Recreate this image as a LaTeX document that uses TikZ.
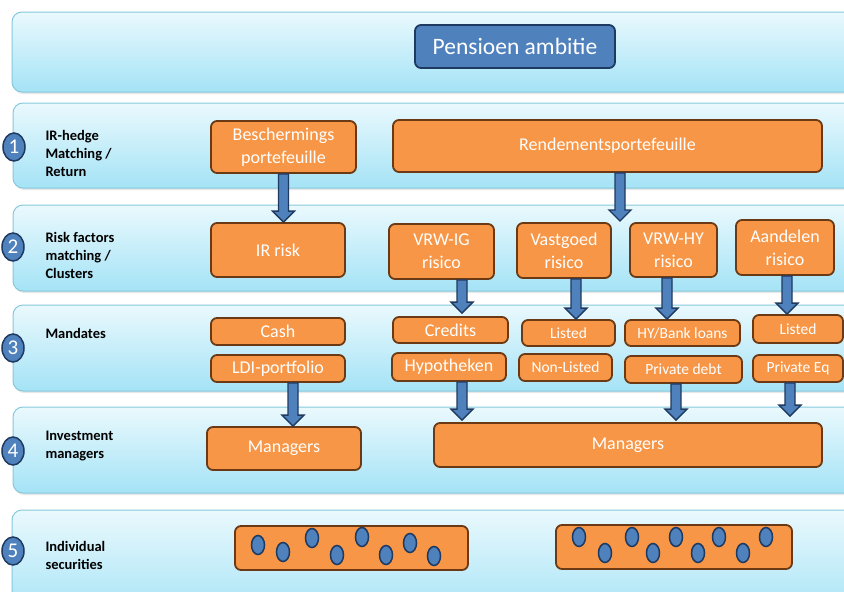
\documentclass[tikz,border=0pt]{standalone}
\usepackage{fontspec}
\setmainfont{Carlito}
\usetikzlibrary{calc,shadows,shapes.geometric}
\definecolor{bandtop}{HTML}{EAF9FD}
\definecolor{bandbot}{HTML}{A4E3F6}
\definecolor{bandline}{HTML}{86C9DC}
\definecolor{boxor}{HTML}{F79646}
\definecolor{boxbr}{HTML}{6B3A14}
\definecolor{blu}{HTML}{4F81BD}
\definecolor{bluline}{HTML}{1F3A60}
\tikzset{
band/.style={rounded corners=10pt,top color=bandtop,bottom color=bandbot,draw=bandline,line width=1pt,
  drop shadow={opacity=.18,shadow xshift=1pt,shadow yshift=-2pt}},
obox/.style={rounded corners=6pt,fill=boxor,draw=boxbr,line width=1.8pt,text=white,align=center,inner sep=0pt,
  font=\fontsize{18}{23}\selectfont},
sbox/.style={obox,font=\fontsize{15.5}{18}\selectfont},
num/.style={ellipse,minimum width=22pt,minimum height=28pt,inner sep=0pt,fill=blu,draw=bluline,line width=1.5pt,
  text=white,font=\fontsize{21}{21}\selectfont},
lab/.style={anchor=west,align=left,font=\fontsize{14.5}{18}\selectfont\bfseries},
fatarrow/.style={fill=blu,draw=bluline,line width=1.3pt,line join=miter},
secdot/.style={fill=blu,draw=bluline,line width=1.5pt}
}
\newcommand\fatarrow[2]{%
  \draw[fatarrow] let \p1=(#1), \p2=(#2) in
    (\x1-5pt,\y1) -- (\x1-5pt,\y2+11pt) -- (\x1-11pt,\y2+11pt) -- (\x1,\y2)
    -- (\x1+11pt,\y2+11pt) -- (\x1+5pt,\y2+11pt) -- (\x1+5pt,\y1) -- cycle;}
\begin{document}
\begin{tikzpicture}[x=1pt,y=-1pt]
\clip (0,0) rectangle (844,592);
\fill[white] (0,0) rectangle (844,592);
% layers
\draw[band] (12,12) rectangle (880,92);
\draw[band] (13,103) rectangle (880,188);
\draw[band] (13,205) rectangle (880,291);
\draw[band] (13,305) rectangle (880,391);
\draw[band] (13,407) rectangle (880,493);
\draw[band] (12,510) rectangle (880,620);
\node[obox,fill=blu,draw=bluline,minimum width=200pt,minimum height=43pt,font=\fontsize{23.5}{26}\selectfont] (pen) at (515,46.5) {Pensioen ambitie};
% numbers and labels
\node[num] (num1) at (14,147) {1};
\node[num] (num2) at (13,247) {2};
\node[num] (num3) at (13,348) {3};
\node[num] (num4) at (13,451) {4};
\node[num] (num5) at (13,551) {5};
\node[lab] (lab1) at (42,153) {IR-hedge\\Matching /\\Return};
\node[lab] (lab2) at (42,255) {Risk factors\\matching /\\Clusters};
\node[lab] (lab3) at (42,333) {Mandates};
\node[lab] (lab4) at (42,446) {Investment\\managers};
\node[lab] (lab5) at (42,555) {Individual\\securities};
% level 1 and 2
\node[obox,minimum width=145pt,minimum height=52pt] (bes) at (283.5,147) {Beschermings\\portefeuille};
\node[obox,minimum width=429pt,minimum height=52pt] (rend) at (607.5,146) {Rendementsportefeuille};
\node[obox,minimum width=134pt,minimum height=54pt] (irr) at (278,250) {IR risk};
\node[obox,minimum width=105pt,minimum height=55pt] (vig) at (441.5,251.5) {VRW-IG\\risico};
\node[obox,minimum width=94pt,minimum height=55pt] (vast) at (564,250.5) {Vastgoed\\risico};
\node[obox,minimum width=87pt,minimum height=54pt] (vhy) at (673.5,250) {VRW-HY\\risico};
\node[obox,minimum width=98pt,minimum height=55pt] (aan) at (785,247.5) {Aandelen\\risico};
% mandates
\node[obox,minimum width=134pt,minimum height=27pt] (cash) at (278,331.5) {Cash};
\node[obox,minimum width=134pt,minimum height=27pt] (ldi) at (278,368.5) {LDI-portfolio};
\node[obox,minimum width=115pt,minimum height=26pt] (cred) at (450.5,330) {Credits};
\node[obox,minimum width=114pt,minimum height=28pt] (hyp) at (449,367) {Hypotheken};
\node[sbox,minimum width=93pt,minimum height=26pt] (lv) at (568.5,333) {Listed};
\node[sbox,minimum width=93pt,minimum height=27pt] (nl) at (565.5,367.5) {Non-Listed};
\node[sbox,minimum width=115pt,minimum height=26pt] (hy) at (682.5,333) {HY/Bank loans};
\node[sbox,minimum width=117pt,minimum height=27pt] (pd) at (683.5,369.5) {Private debt};
\node[sbox,minimum width=90pt,minimum height=28pt] (la) at (798,329) {Listed};
\node[sbox,minimum width=90pt,minimum height=27pt] (peq) at (798,368.5) {Private Eq};
% managers and securities
\node[obox,minimum width=154pt,minimum height=43pt] (manl) at (284,448.5) {Managers};
\node[obox,minimum width=388pt,minimum height=44pt] (manr) at (628,445) {Managers};
\node[obox,minimum width=233pt,minimum height=44pt] (sec1) at (351.5,548) {};
\node[obox,minimum width=236pt,minimum height=44pt] (sec2) at (674,547) {};
\foreach \p in {(258,545),(283,552),(312,538),(337,555),(362,537),(386,555),(410,543),(434,556),
  (579,537),(605,553),(632,537),(653,553),(676,537),(698,553),(719,537),(743,553),(766,537)}
  \draw[secdot] \p ellipse (6.5 and 9.5);
% arrows
\coordinate (rtip) at (620,221);
\fatarrow{bes.south}{irr.north}
\fatarrow{$(rend.south)+(12.5,0)$}{rtip}
\fatarrow{$(vig.south)+(20.5,0)$}{$(cred.north)+(0,-3)$}
\fatarrow{$(vast.south)+(12,0)$}{lv.north}
\fatarrow{$(vhy.south)+(-6.5,0)$}{hy.north}
\fatarrow{$(aan.south)+(2,0)$}{la.north}
\fatarrow{$(ldi.south)+(15,0)$}{manl.north}
\fatarrow{$(hyp.south)+(13,0)$}{$(manr.north)+(0,-2)$}
\fatarrow{$(pd.south)+(-7.5,0)$}{$(manr.north)+(0,-2)$}
\fatarrow{$(peq.south)+(-8,0)$}{$(manr.north)+(0,-6)$}
\end{tikzpicture}
\end{document}
